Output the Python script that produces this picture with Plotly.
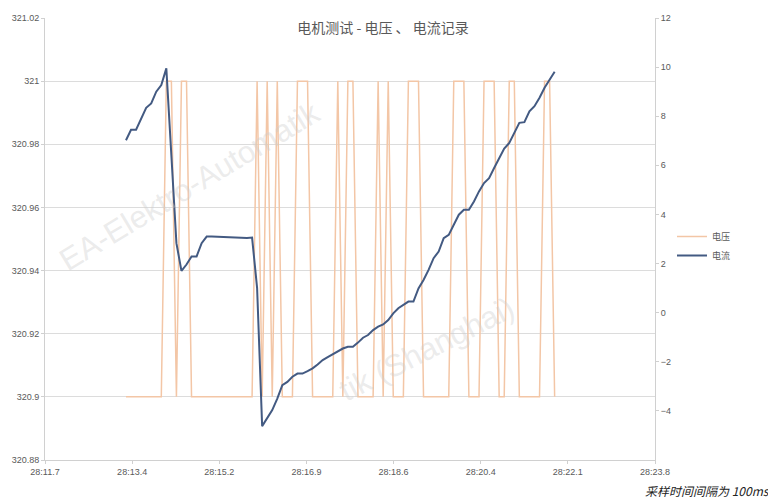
import plotly.graph_objects as go

# ---- data ----
sample_interval_s = 0.1          # 100 ms sampling
start_time_s = 13.326            # seconds within minute 28 of first sample

voltage = [
    320.9, 320.9, 320.9, 320.9, 320.9, 320.9, 320.9, 320.9,
    321.0, 321.0, 320.9, 321.0, 321.0,
    320.9, 320.9, 320.9, 320.9, 320.9, 320.9, 320.9, 320.9, 320.9, 320.9, 320.9, 320.9, 320.9,
    321.0, 320.9, 321.0, 320.9, 321.0,
    320.9, 320.9, 320.9, 321.0, 321.0, 321.0,
    320.9, 320.9, 320.9, 320.9, 320.9,
    321.0, 320.9, 321.0, 321.0,
    320.9, 320.9, 320.9, 320.9,
    321.0, 320.9, 321.0, 320.9, 320.9, 320.9,
    321.0, 321.0, 321.0,
    320.9, 320.9, 320.9, 320.9, 320.9, 320.9,
    321.0, 321.0, 321.0, 320.9, 320.9, 320.9,
    321.0, 321.0, 321.0, 320.9, 320.9, 321.0, 321.0,
    320.9, 320.9, 320.9, 320.9, 320.9, 321.0, 321.0, 320.9,
]

current = [
    7.02, 7.45, 7.45, 7.9, 8.34, 8.52, 9.0, 9.27, 9.95, 6.4,
    2.83, 1.70, 1.96, 2.29, 2.29, 2.83, 3.1, 3.1, 3.09, 3.08,
    3.07, 3.06, 3.05, 3.04, 3.04, 3.06, 1.0, -4.62, -4.29, -3.97,
    -3.5, -2.95, -2.82, -2.61, -2.48, -2.48, -2.38, -2.27, -2.11, -1.93,
    -1.81, -1.70, -1.56, -1.46, -1.39, -1.39, -1.22, -1.02, -0.91, -0.71,
    -0.57, -0.48, -0.30, -0.03, 0.18, 0.30, 0.45, 0.45, 0.99, 1.33,
    1.74, 2.22, 2.49, 3.03, 3.17, 3.58, 3.99, 4.19, 4.19, 4.53,
    4.94, 5.28, 5.48, 5.89, 6.30, 6.68, 6.91, 7.32, 7.73, 7.76,
    8.2, 8.41, 8.75, 9.16, 9.5, 9.81,
]

x_tick_labels = ["28:11.7", "28:13.4", "28:15.2", "28:16.9", "28:18.6", "28:20.4", "28:22.1", "28:23.8"]
x_axis_start = 11.72
x_major_unit = 1.728

left_tick_vals = [320.88, 320.9, 320.92, 320.94, 320.96, 320.98, 321.0, 321.02]
left_tick_text = ["320.88", "320.9", "320.92", "320.94", "320.96", "320.98", "321", "321.02"]
right_tick_vals = [-4, -2, 0, 2, 4, 6, 8, 10, 12]

times = [start_time_s + i * sample_interval_s for i in range(len(current))]
x_tick_vals = [x_axis_start + k * x_major_unit for k in range(len(x_tick_labels))]

GRAY = "#595959"
TICKFONT = dict(family="Liberation Sans, Arial, sans-serif", size=9, color=GRAY)

# page offset compensation (body margin of the html page)
OFF = 7
L, T, PW, PH = 44 - OFF, 17 - OFF, 610, 442

fig = go.Figure()
fig.add_trace(go.Scatter(
    x=times, y=voltage, name="电压", mode="lines",
    line=dict(color="#f3c6a6", width=1.5), yaxis="y",
))
fig.add_trace(go.Scatter(
    x=times, y=current, name="电流", mode="lines",
    line=dict(color="#435a82", width=2), yaxis="y2",
))


def px(xs):
    return (xs - OFF - L) / PW


def py(ys):
    return (T + PH - (ys - OFF)) / PH


fig.update_layout(
    width=776, height=498,
    margin=dict(l=L, r=776 - L - PW, t=T, b=498 - T - PH, autoexpand=False),
    paper_bgcolor="white", plot_bgcolor="white",
    title=dict(text="电机测试 - 电压 、 电流记录", x=px(382), xref="paper",
               y=py(27), yref="paper", xanchor="center", yanchor="middle",
               font=dict(family="Noto Sans CJK SC", size=14, color=GRAY)),
    xaxis=dict(range=[x_axis_start, x_axis_start + 7 * x_major_unit],
               tickvals=x_tick_vals, ticktext=x_tick_labels, tickfont=TICKFONT,
               showgrid=False, showline=True, linecolor="#d0d0d0", linewidth=1,
               ticks="outside", ticklen=3, tickcolor="#d0d0d0", zeroline=False,
               automargin=False),
    yaxis=dict(range=[320.88, 321.02], tickvals=left_tick_vals, ticktext=left_tick_text,
               tickfont=TICKFONT, showgrid=True, gridcolor="#dcdcdc", gridwidth=1,
               showline=True, linecolor="#d0d0d0", ticks="outside", ticklen=3,
               tickcolor="#d0d0d0", zeroline=False, automargin=False),
    yaxis2=dict(range=[-6, 12], tickvals=right_tick_vals, overlaying="y", side="right",
                tickfont=TICKFONT, showgrid=False, showline=True, linecolor="#d0d0d0",
                ticks="outside", ticklen=3, tickcolor="#d0d0d0", zeroline=False,
                automargin=False),
    showlegend=True,
    legend=dict(x=px(671), y=py(245), xanchor="left", yanchor="middle",
                font=dict(family="Noto Sans CJK SC", size=9, color=GRAY),
                bgcolor="rgba(0,0,0,0)", tracegroupgap=0, itemwidth=30),
)

# watermark texts
WM = dict(family="Liberation Sans", size=31, color="rgba(205,205,205,0.40)")
fig.add_annotation(text="EA-Elektro-Automatik", xref="paper", yref="paper",
                   x=px(188), y=py(185), xanchor="center", yanchor="middle",
                   showarrow=False, textangle=-31, font=WM)
fig.add_annotation(text="tik (Shanghai)", xref="paper", yref="paper",
                   x=px(425), y=py(348), xanchor="center", yanchor="middle",
                   showarrow=False, textangle=-27, font=WM)

# caption
fig.add_annotation(text="<i>采样时间间隔为 100ms</i>", xref="paper", yref="paper",
                   x=px(771), y=py(489), xanchor="right", yanchor="middle",
                   showarrow=False, font=dict(family="Noto Sans CJK SC", size=12, color="#222222"))

fig.write_html("out.html")
